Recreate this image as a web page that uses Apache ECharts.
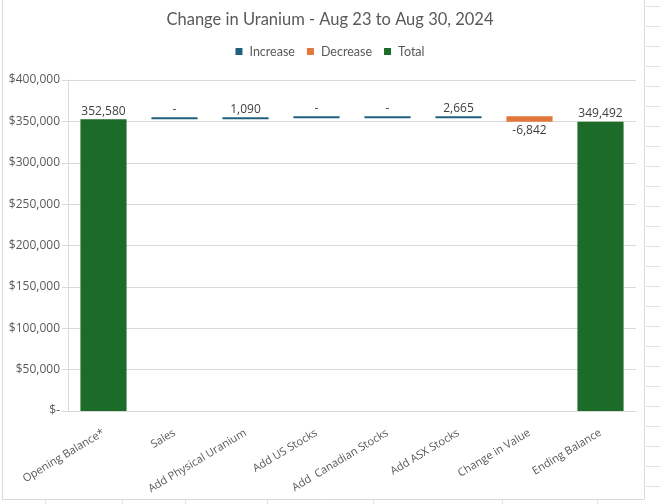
<!DOCTYPE html>
<html>
<head>
<meta charset="utf-8">
<script src="https://cdn.jsdelivr.net/npm/echarts@6/dist/echarts.min.js"></script>
<style>
html,body{margin:0;padding:0;background:#fff;}
#chart{width:660px;height:504px;}
</style>
</head>
<body>
<div id="chart"></div>
<script>
var categories = ['Opening Balance*', 'Sales', 'Add Physical Uranium', 'Add US Stocks', 'Add  Canadian Stocks', 'Add ASX Stocks', 'Change in Value', 'Ending Balance'];
var increase = [null, 0, 1090, 0, 0, 2665, null, null];
var decrease = [null, null, null, null, null, null, 6842, null];
var total = [352580, null, null, null, null, null, null, 349492];
var yTicks = [0, 50000, 100000, 150000, 200000, 250000, 300000, 350000, 400000];

// invisible base for the waterfall, accumulated from the values above
var base = [];
var running = 0;
for (var i = 0; i < categories.length; i++) {
  if (total[i] != null) { base.push(0); running = total[i]; }
  else if (increase[i] != null) { base.push(running); running += increase[i]; }
  else if (decrease[i] != null) { running -= decrease[i]; base.push(running); }
  else base.push(0);
}
function dash(a){ return a.map(function(v){ return v == null ? '-' : v; }); }
function fmt(v){ return v === 0 ? '-' : v.toLocaleString('en-US'); }

var chart = echarts.init(document.getElementById('chart'), null, {renderer:'canvas'});
var lblFont = {fontFamily:'Open Sans', fontSize:12, color:'#404040'};

var deco = [];
deco.push({type:'rect', shape:{x:2.5, y:-2, width:642, height:501.5}, style:{fill:'none', stroke:'#d9d9d9', lineWidth:1}, silent:true, z:-10});
for (var y = 6; y < 504; y += 20) {
  deco.push({type:'line', shape:{x1:646, y1:y+0.5, x2:660, y2:y+0.5}, style:{stroke:'#e3e3e3', lineWidth:1}, silent:true, z:-10});
}
[45, 122, 185, 267, 373, 502, 597].forEach(function(x){
  deco.push({type:'line', shape:{x1:x+0.5, y1:500, x2:x+0.5, y2:504}, style:{stroke:'#e3e3e3', lineWidth:1}, silent:true, z:-10});
});

chart.setOption({
  animation:false,
  backgroundColor:'#ffffff',
  graphic: deco,
  title:{
    text:'Change in Uranium - Aug 23 to Aug 30, 2024',
    left:'center', top:6,
    textStyle:{fontFamily:'Lato', fontSize:16.5, fontWeight:'normal', color:'#595959'}
  },
  legend:{
    data:['Increase','Decrease','Total'],
    top:40, left:'center',
    itemWidth:7, itemHeight:7, itemGap:12,
    icon:'rect',
    textStyle:{fontFamily:'Lato', fontSize:12.5, color:'#595959', padding:[0,0,0,2]}
  },
  grid:{left:68, right:24, top:80, bottom:93, containLabel:false},
  xAxis:{
    type:'category',
    data:categories,
    axisLine:{show:true, lineStyle:{color:'#d9d9d9'}},
    axisTick:{show:false},
    axisLabel:{interval:0, rotate:31, margin:21, fontFamily:'Open Sans', fontSize:11, color:'#595959'}
  },
  yAxis:{
    type:'value',
    min:yTicks[0], max:yTicks[yTicks.length-1], interval:yTicks[1]-yTicks[0],
    axisLine:{show:true, lineStyle:{color:'#d9d9d9'}},
    axisTick:{show:true, length:6, lineStyle:{color:'#d9d9d9'}},
    splitLine:{lineStyle:{color:'#d9d9d9'}},
    axisLabel:{
      margin:8, fontFamily:'Open Sans', fontSize:12, color:'#595959',
      formatter:function(v){ return v === 0 ? '$-' : '$' + v.toLocaleString('en-US'); }
    }
  },
  series:[
    {name:'base', type:'bar', stack:'w', data:base, barWidth:'65%',
     itemStyle:{color:'transparent'}, silent:true, emphasis:{disabled:true}},
    {name:'Increase', type:'bar', stack:'w', data:dash(increase), barMinHeight:2,
     itemStyle:{color:'#215F7E'},
     label:{show:true, position:'top', distance:2, formatter:function(p){ return fmt(p.value); }, fontFamily:lblFont.fontFamily, fontSize:lblFont.fontSize, color:lblFont.color}},
    {name:'Decrease', type:'bar', stack:'w', data:dash(decrease),
     itemStyle:{color:'#E2773B'},
     label:{show:true, position:'bottom', distance:3, formatter:function(p){ return '-' + fmt(p.value); }, fontFamily:lblFont.fontFamily, fontSize:lblFont.fontSize, color:lblFont.color}},
    {name:'Total', type:'bar', stack:'w', data:dash(total),
     itemStyle:{color:'#1C6B29'},
     label:{show:true, position:'top', distance:2, formatter:function(p){ return fmt(p.value); }, fontFamily:lblFont.fontFamily, fontSize:lblFont.fontSize, color:lblFont.color}}
  ]
});
</script>
</body>
</html>
